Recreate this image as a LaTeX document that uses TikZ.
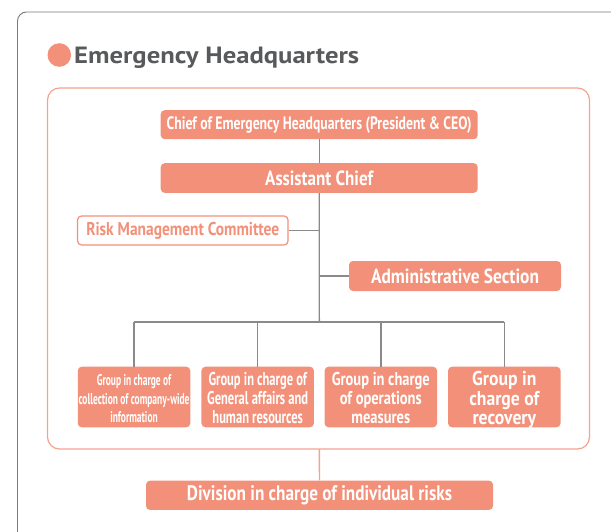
\documentclass[tikz,border=0pt]{standalone}
\usepackage{fontspec}
\usepackage{graphicx}
\setmainfont{PT Sans}
\definecolor{salmon}{HTML}{F39079}
\definecolor{framesal}{HTML}{F4A38F}
\definecolor{titlegray}{HTML}{58595B}
\definecolor{linegray}{HTML}{8A8A8A}
\definecolor{outergray}{HTML}{7A7A7A}
\newcommand\fw[2]{\resizebox{#1}{\height}{#2}}
\newcommand\fwl[2]{\raisebox{-3.5pt}[\height][\depth]{\resizebox{#1}{\height}{\begin{tabular}{@{}c@{}}#2\end{tabular}}}}
\tikzset{
  box/.style={fill=salmon, rounded corners=4pt, text=white, inner sep=0pt, align=center, font=\bfseries},
  openbox/.style={draw=salmon, line width=1.2pt, fill=white, rounded corners=4pt, text=salmon, inner sep=0pt, align=center, font=\bfseries},
  grp/.style={box, minimum width=112.5pt, minimum height=60.6pt},
  conn/.style={draw=linegray, line width=1.4pt},
}
\begin{document}
\begin{tikzpicture}[x=1pt,y=-1pt]
\useasboundingbox (0,0) rectangle (611,532);
\clip (0,0) rectangle (611,532);
% outer frame
\draw[outergray, line width=0.9pt, rounded corners=9pt] (17.5,12) rectangle (640,570);
% title
\fill[salmon] (59.3,55) circle (11.8pt);
\node[anchor=base west, inner sep=0pt, text=titlegray, font=\bfseries\fontsize{23.5}{28}\selectfont] (title) at (74,63.3) {\fw{285pt}{Emergency Headquarters}};
% inner frame
\draw[framesal, line width=1.2pt, rounded corners=12pt] (47.5,88) rectangle (589.5,449);
% nodes
\node[box, minimum width=317pt, minimum height=29pt, font=\bfseries\fontsize{18}{20}\selectfont] (chief) at (319.2,124.7) {\fw{305pt}{Chief of Emergency Headquarters (President \& CEO)}};
\node[box, minimum width=317pt, minimum height=29.7pt, font=\bfseries\fontsize{20.5}{22}\selectfont] (asst) at (319.2,178) {\fw{108pt}{Assistant Chief}};
\node[openbox, minimum width=210.5pt, minimum height=29pt, font=\bfseries\fontsize{18.5}{20}\selectfont] (risk) at (182.8,230.5) {\fw{193pt}{Risk Management Committee}};
\node[box, minimum width=212pt, minimum height=30pt, font=\bfseries\fontsize{20.5}{22}\selectfont] (admin) at (455,276) {\fw{168pt}{Administrative Section}};
\node[grp, font=\bfseries\fontsize{15.5}{18.7}\selectfont] (g1) at (134,397) {\fwl{111pt}{Group in charge of\\collection of company-wide\\information}};
\node[grp, font=\bfseries\fontsize{18.5}{18.7}\selectfont] (g2) at (257.7,397) {\fwl{101pt}{Group in charge of\\General affairs and\\human resources}};
\node[grp, font=\bfseries\fontsize{18.5}{18.7}\selectfont] (g3) at (380.8,397) {\fwl{98pt}{Group in charge\\of operations\\measures}};
\node[grp, font=\bfseries\fontsize{20}{19}\selectfont] (g4) at (504.3,397) {\fwl{70pt}{Group in\\charge of\\recovery}};
\node[box, minimum width=347pt, minimum height=29.3pt, font=\bfseries\fontsize{21}{22}\selectfont] (div) at (319.5,495.3) {\fw{265pt}{Division in charge of individual risks}};
% connectors
\coordinate (bus) at (319.3,322);
\coordinate (fb) at (319.3,449);
\draw[conn] (chief.south) -- (asst.north);
\draw[conn] (asst.south) -- (bus);
\draw[conn] (risk.east) -- (risk.east -| asst.south);
\draw[conn] (admin.west) -- (admin.west -| asst.south);
\draw[conn] (g1.north |- bus) -- (g4.north |- bus);
\foreach \g in {g1,g2,g3,g4} \draw[conn] (\g.north) -- (\g.north |- bus);
\draw[framesal, line width=1.4pt] (fb) -- (div.north);
\end{tikzpicture}
\end{document}
